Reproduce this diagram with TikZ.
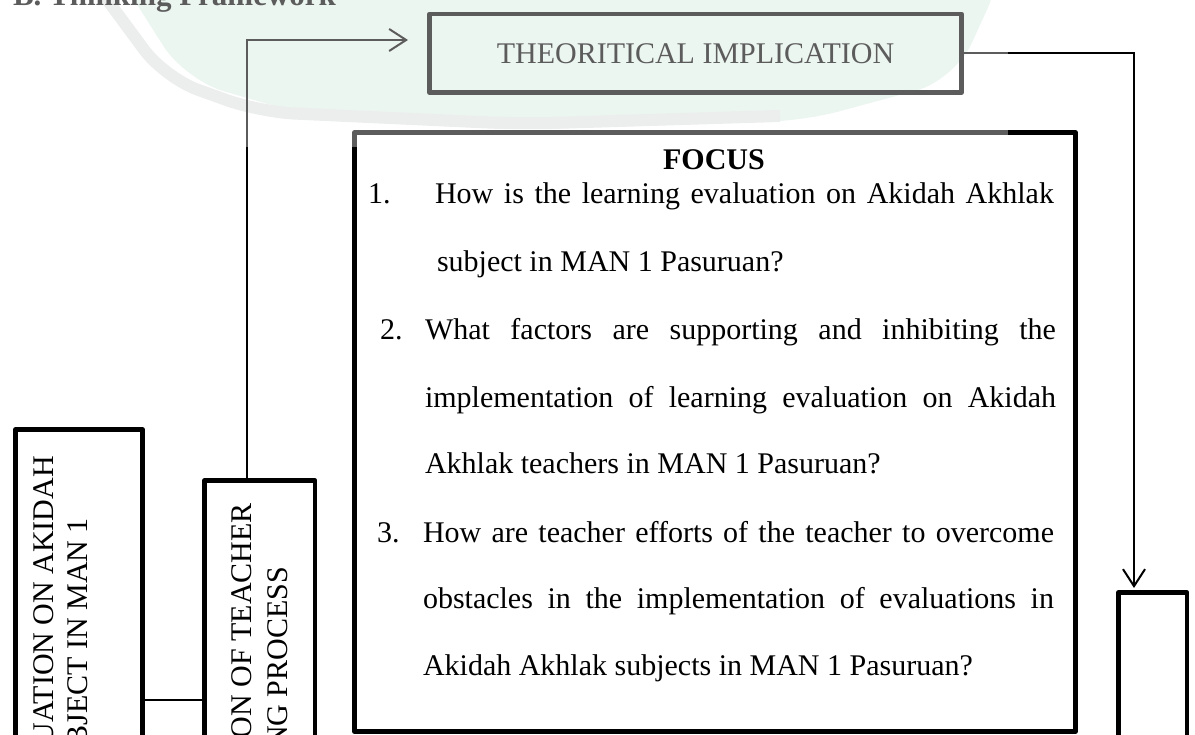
\documentclass[tikz,border=0pt]{standalone}
\usepackage{fontspec}
\setmainfont{Liberation Serif}
\usetikzlibrary{arrows.meta,calc}
\definecolor{wmgreen}{RGB}{226,241,232}
\definecolor{wmband}{RGB}{226,228,227}
\begin{document}
\begin{tikzpicture}[x=1pt,y=-1pt,
  box/.style={draw=black,line width=4.5pt,inner sep=0pt,outer sep=0pt,anchor=north west,line join=round},
  conn/.style={draw=black,line width=2pt},
  arr/.style={-{Straight Barb[length=17pt,width=22pt]}},
  txt/.style={inner sep=0pt,outer sep=0pt,font=\fontsize{30}{36}\selectfont},
]
\useasboundingbox (0,0) rectangle (1195,735);
\clip (0,0) rectangle (1195,735);

% faint watermark (background)
\fill[wmgreen,rounded corners=40pt] (115,-30) -- (185,80) -- (330,122) -- (800,122) -- (955,80) -- (1005,-30) -- cycle;
\draw[wmband,line width=12pt,rounded corners=35pt] (100,-10) -- (165,78) -- (260,112) -- (520,124) -- (780,116);

% header (cut by the top edge)
\node[txt,anchor=base west,font=\fontsize{31}{36}\selectfont\bfseries] (head) at (13,6) {B. Thinking Framework};

% boxes
\node[box,minimum width=532pt,minimum height=78.5pt] (topbox) at (429.5,14) {};
\node[txt] (toptext) at (topbox.center) {THEORITICAL IMPLICATION};
\node[box,minimum width=721pt,minimum height=599pt] (focus) at (354.5,132.5) {};
\node[box,minimum width=127pt,minimum height=370pt] (box1) at (15.5,429.5) {};
\node[box,minimum width=110.5pt,minimum height=320pt] (box2) at (204.5,480.5) {};
\node[box,minimum width=68.5pt,minimum height=208pt] (rbox) at (1118.5,592.5) {};

% rotated texts (cut by the bottom edge)
\node[txt,rotate=90,anchor=base east] (t1a) at (53,456) {UATION ON AKIDAH};
\node[txt,rotate=90,anchor=base east] (t1b) at (87,518) {BJECT IN MAN 1};
\node[txt,rotate=90,anchor=base east] (t2a) at (251,503) {ON OF TEACHER};
\node[txt,rotate=90,anchor=base east] (t2b) at (287,567) {NG PROCESS};

% focus texts
\node[txt,anchor=base,font=\fontsize{30}{36}\selectfont\bfseries] (ftitle) at (714,170) {FOCUS};
\node[txt,anchor=base west] (n1) at (368,204) {1.};
\node[txt,anchor=base west] (l1a) at (435,204) {\makebox[619pt][s]{How is the learning evaluation on Akidah Akhlak}};
\node[txt,anchor=base west] (l1b) at (437,272) {subject in MAN 1 Pasuruan?};
\node[txt,anchor=base west] (n2) at (380,340) {2.};
\node[txt,anchor=base west] (l2a) at (425,340) {\makebox[631pt][s]{What factors are supporting and inhibiting the}};
\node[txt,anchor=base west] (l2b) at (425,407) {\makebox[631pt][s]{implementation of learning evaluation on Akidah}};
\node[txt,anchor=base west] (l2c) at (425,473) {Akhlak teachers in MAN 1 Pasuruan?};
\node[txt,anchor=base west] (n3) at (377,542) {3.};
\node[txt,anchor=base west] (l3a) at (423,542) {\makebox[631pt][s]{How are teacher efforts of the teacher to overcome}};
\node[txt,anchor=base west] (l3b) at (423,608) {\makebox[631pt][s]{obstacles in the implementation of evaluations in}};
\node[txt,anchor=base west] (l3c) at (423,675) {Akidah Akhlak subjects in MAN 1 Pasuruan?};

% connectors
\coordinate (bendA) at (247,40);
\coordinate (tipA) at (408,40);
\coordinate (tipB) at (1134,588);
\coordinate (linkY) at (0,700);
\draw[conn,arr] (bendA |- box2.north) -- (bendA) -- (tipA);
\draw[conn,arr] (topbox.east) -| (tipB);
\draw[conn] (box1.east |- linkY) -- (box2.west |- linkY);

% watermark whitening over the upper area
\fill[white,opacity=0.36] (0,-5) rectangle (1008,147);
\end{tikzpicture}
\end{document}
